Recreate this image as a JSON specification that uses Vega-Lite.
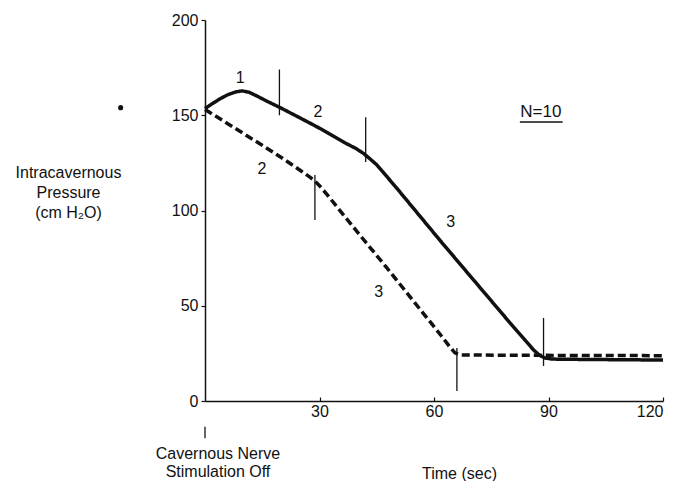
{
  "$schema": "https://vega.github.io/schema/vega-lite/v6.json",
  "width": 458,
  "height": 381,
  "autosize": {"type": "none"},
  "padding": {"left": 205, "top": 20, "right": 27, "bottom": 80},
  "background": "white",
  "config": {
    "view": {"stroke": null},
    "font": "Liberation Sans",
    "axis": {
      "grid": false,
      "domainColor": "#111",
      "domainWidth": 1.5,
      "tickColor": "#111",
      "tickWidth": 1.2,
      "labelColor": "#111",
      "labelFont": "Liberation Sans",
      "labelFontSize": 16,
      "titleFont": "Liberation Sans",
      "titleFontSize": 16,
      "titleFontWeight": "normal",
      "titleColor": "#111"
    },
    "text": {"font": "Liberation Sans", "fontSize": 16, "color": "#111"}
  },
  "datasets": {
    "curves": [
      {"series": "solid", "t": 0, "p": 153.5},
      {"series": "solid", "t": 2, "p": 156.2},
      {"series": "solid", "t": 4, "p": 158.7},
      {"series": "solid", "t": 6, "p": 160.8},
      {"series": "solid", "t": 8, "p": 162.2},
      {"series": "solid", "t": 9.7, "p": 162.8},
      {"series": "solid", "t": 11.5, "p": 162.1},
      {"series": "solid", "t": 13.5, "p": 160.2},
      {"series": "solid", "t": 16, "p": 157.6},
      {"series": "solid", "t": 19.5, "p": 154.2},
      {"series": "solid", "t": 25, "p": 148.5},
      {"series": "solid", "t": 30, "p": 143.2},
      {"series": "solid", "t": 36.6, "p": 135.6},
      {"series": "solid", "t": 39.5, "p": 132.6},
      {"series": "solid", "t": 41.5, "p": 130},
      {"series": "solid", "t": 43, "p": 127.5},
      {"series": "solid", "t": 45, "p": 124},
      {"series": "solid", "t": 50, "p": 112.3},
      {"series": "solid", "t": 61.5, "p": 84.5},
      {"series": "solid", "t": 70, "p": 64.4},
      {"series": "solid", "t": 80, "p": 40.8},
      {"series": "solid", "t": 86, "p": 27},
      {"series": "solid", "t": 87.5, "p": 24.2},
      {"series": "solid", "t": 89, "p": 22.6},
      {"series": "solid", "t": 91, "p": 22},
      {"series": "solid", "t": 100, "p": 21.8},
      {"series": "solid", "t": 120, "p": 21.5},
      {"series": "dashed", "t": 0, "p": 153},
      {"series": "dashed", "t": 5, "p": 146.8},
      {"series": "dashed", "t": 10, "p": 140.5},
      {"series": "dashed", "t": 15, "p": 134.2},
      {"series": "dashed", "t": 20, "p": 127.8},
      {"series": "dashed", "t": 25, "p": 121},
      {"series": "dashed", "t": 27.5, "p": 117.5},
      {"series": "dashed", "t": 28.8, "p": 115.5},
      {"series": "dashed", "t": 30, "p": 113},
      {"series": "dashed", "t": 32, "p": 108.3},
      {"series": "dashed", "t": 40, "p": 88.5},
      {"series": "dashed", "t": 47.6, "p": 70},
      {"series": "dashed", "t": 55, "p": 51.5},
      {"series": "dashed", "t": 62, "p": 34},
      {"series": "dashed", "t": 64.3, "p": 28},
      {"series": "dashed", "t": 65.5, "p": 25.3},
      {"series": "dashed", "t": 67, "p": 24.2},
      {"series": "dashed", "t": 80, "p": 24},
      {"series": "dashed", "t": 100, "p": 23.9},
      {"series": "dashed", "t": 120, "p": 23.8}
    ],
    "marks": [
      {"t": 19.5, "p1": 174, "p2": 150},
      {"t": 42.1, "p1": 149, "p2": 125.5},
      {"t": 28.8, "p1": 118.6, "p2": 95},
      {"t": 66, "p1": 27.8, "p2": 5.2},
      {"t": 88.7, "p1": 43.6, "p2": 18.4},
      {"t": 0, "p1": -13.5, "p2": -19.5}
    ],
    "labels": [
      {"t": 9.2, "p": 169.5, "text": "1"},
      {"t": 29.6, "p": 151.7, "text": "2"},
      {"t": 64.4, "p": 94, "text": "3"},
      {"t": 14.9, "p": 122, "text": "2"},
      {"t": 45.5, "p": 57, "text": "3"},
      {"t": 3.4, "p": -27.8, "text": "Cavernous Nerve"},
      {"t": 3.4, "p": -37.5, "text": "Stimulation Off"}
    ],
    "note": [
      {"t": 88, "p": 151.7, "text": "N=10"}
    ],
    "underline": [
      {"t": 82.5, "t2": 93.7, "p": 146.5}
    ],
    "dot": [
      {"t": -22.1, "p": 154}
    ]
  },
  "layer": [
    {
      "data": {"name": "curves"},
      "mark": {"type": "line", "color": "#111", "strokeWidth": 3.5, "strokeCap": "butt", "strokeJoin": "round"},
      "encoding": {
        "x": {
          "field": "t", "type": "quantitative",
          "scale": {"domain": [0, 120], "nice": false},
          "axis": {"values": [30, 60, 90, 120], "tickSize": -4, "labelPadding": 6, "title": "Time (sec)", "titleX": 254, "titleY": 72, "titleBaseline": "middle", "titleAnchor": null, "titleAlign": "center"}
        },
        "y": {
          "field": "p", "type": "quantitative",
          "scale": {"domain": [0, 200], "nice": false},
          "axis": {"values": [0, 50, 100, 150, 200], "tickSize": 4, "labelPadding": 3, "title": ["Intracavernous", "Pressure", "(cm H₂O)"], "titleAngle": 0, "titleX": -137, "titleY": 152, "titleAlign": "center", "titleBaseline": "middle", "titleLineHeight": 20, "titleAnchor": null}
        },
        "strokeDash": {
          "field": "series", "type": "nominal",
          "scale": {"domain": ["solid", "dashed"], "range": [[1, 0], [8, 4]]},
          "legend": null
        }
      }
    },
    {
      "data": {"name": "marks"},
      "mark": {"type": "rule", "color": "#111", "strokeWidth": 1.3},
      "encoding": {
        "x": {"field": "t", "type": "quantitative", "scale": {"domain": [0, 120], "nice": false}},
        "y": {"field": "p1", "type": "quantitative", "scale": {"domain": [0, 200], "nice": false}},
        "y2": {"field": "p2"}
      }
    },
    {
      "data": {"name": "labels"},
      "mark": {"type": "text", "align": "center", "baseline": "middle"},
      "encoding": {
        "x": {"field": "t", "type": "quantitative", "scale": {"domain": [0, 120], "nice": false}},
        "y": {"field": "p", "type": "quantitative", "scale": {"domain": [0, 200], "nice": false}},
        "text": {"field": "text"}
      }
    },
    {
      "data": {"name": "note"},
      "mark": {"type": "text", "align": "center", "baseline": "middle", "fontSize": 17},
      "encoding": {
        "x": {"field": "t", "type": "quantitative", "scale": {"domain": [0, 120], "nice": false}},
        "y": {"field": "p", "type": "quantitative", "scale": {"domain": [0, 200], "nice": false}},
        "text": {"field": "text"}
      }
    },
    {
      "data": {"name": "underline"},
      "mark": {"type": "rule", "color": "#111", "strokeWidth": 1.5},
      "encoding": {
        "x": {"field": "t", "type": "quantitative", "scale": {"domain": [0, 120], "nice": false}},
        "x2": {"field": "t2"},
        "y": {"field": "p", "type": "quantitative", "scale": {"domain": [0, 200], "nice": false}}
      }
    },
    {
      "data": {"name": "dot"},
      "mark": {"type": "point", "filled": true, "color": "#111", "size": 26, "opacity": 1},
      "encoding": {
        "x": {"field": "t", "type": "quantitative", "scale": {"domain": [0, 120], "nice": false}},
        "y": {"field": "p", "type": "quantitative", "scale": {"domain": [0, 200], "nice": false}}
      }
    }
  ]
}
